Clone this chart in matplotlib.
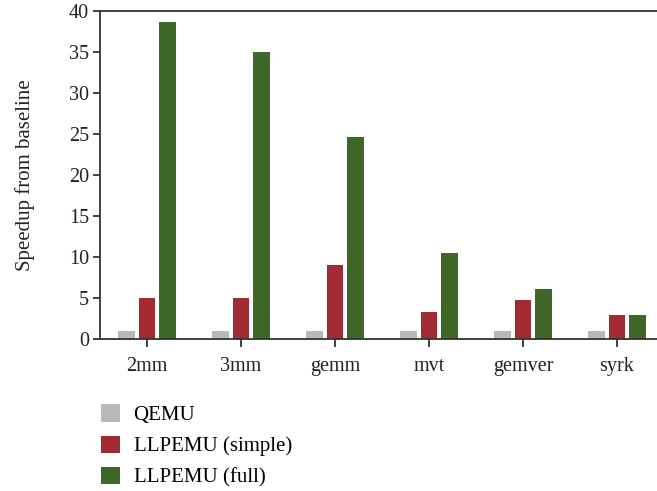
import matplotlib
matplotlib.use("Agg")
import matplotlib.pyplot as plt
import numpy as np

categories = ["2mm", "3mm", "gemm", "mvt", "gemver", "syrk"]
qemu = [1.0, 1.0, 1.0, 1.0, 1.0, 1.0]
llpemu_simple = [5.0, 5.0, 9.0, 3.3, 4.8, 2.95]
llpemu_full = [38.65, 35.0, 24.6, 10.5, 6.1, 2.95]
series_names = ["QEMU", "LLPEMU (simple)", "LLPEMU (full)"]
colors = ["#b9b9b9", "#a12a33", "#3f6828"]
yticks = [0, 5, 10, 15, 20, 25, 30, 35, 40]

plt.rcParams['font.family'] = ['Liberation Serif', 'DejaVu Serif']

fig = plt.figure(figsize=(6.57, 4.91), dpi=100)
ax = fig.add_axes([100/657, (491-339)/491, 564/657, 328/491])

x = np.arange(len(categories))
w = 0.18
off = 0.218
for i, (vals, name, c) in enumerate(zip([qemu, llpemu_simple, llpemu_full], series_names, colors)):
    ax.bar(x + (i-1)*off, vals, width=w, color=c, label=name)

ax.set_xlim(-0.5, 5.5)
ax.set_ylim(0, 40)
ax.set_yticks(yticks)
ax.set_xticks(x)
ax.set_xticklabels(categories)
ax.spines["right"].set_visible(False)
for s in ["left", "bottom", "top"]:
    ax.spines[s].set_color("#333333")
    ax.spines[s].set_linewidth(1.3)
ax.tick_params(axis='both', labelsize=14.5, color="#333333", width=1.3, colors="#222222")
ax.tick_params(axis='x', length=6, pad=7)
ax.tick_params(axis='y', length=5, pad=3)
ax.set_ylabel("Speedup from baseline", fontsize=15, color="#222222", labelpad=24)

handles, labels = ax.get_legend_handles_labels()
fig.legend(handles, labels, loc="upper left", bbox_to_anchor=(93/657, 1-396/491),
           frameon=False, fontsize=15, handlelength=0.9, handleheight=0.9,
           labelspacing=0.5, handletextpad=0.65, borderaxespad=0)

fig.savefig("out.png", dpi=100)
